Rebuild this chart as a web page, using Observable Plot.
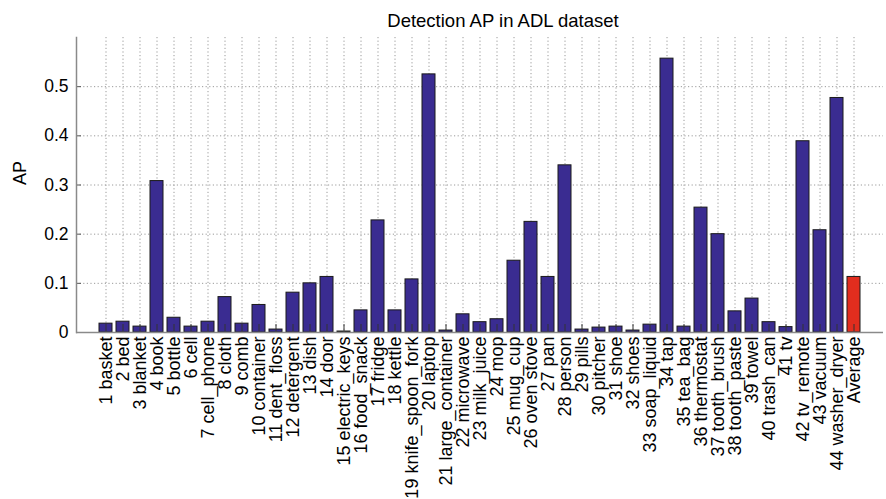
<!DOCTYPE html>
<html>
<head>
<meta charset="utf-8">
<script src="https://cdn.jsdelivr.net/npm/d3@7"></script>
<script src="https://cdn.jsdelivr.net/npm/@observablehq/plot@0.6"></script>
<style>
  html, body { margin: 0; padding: 0; background: #fff; }
</style>
</head>
<body>
<div id="chart"></div>
<script>
const labels = [
  "1 basket", "2 bed", "3 blanket", "4 book", "5 bottle", "6 cell", "7 cell_phone", "8 cloth",
  "9 comb", "10 container", "11 dent_floss", "12 detergent", "13 dish", "14 door",
  "15 electric_keys", "16 food_snack", "17 fridge", "18 kettle", "19 knife_spoon_fork",
  "20 laptop", "21 large_container", "22 microwave", "23 milk_juice", "24 mop", "25 mug_cup",
  "26 oven stove", "27 pan", "28 person", "29 pills", "30 pitcher", "31 shoe", "32 shoes",
  "33 soap_liquid", "34 tap", "35 tea_bag", "36 thermostat", "37 tooth_brush", "38 tooth_paste",
  "39 towel", "40 trash_can", "41 tv", "42 tv_remote", "43 vacuum", "44 washer_dryer", "Average"
];
const values = [
  0.018, 0.022, 0.012, 0.308, 0.030, 0.012, 0.022, 0.072, 0.018, 0.056, 0.006, 0.081,
  0.100, 0.113, 0.002, 0.045, 0.228, 0.045, 0.108, 0.525, 0.004, 0.037, 0.021, 0.027,
  0.146, 0.225, 0.113, 0.340, 0.006, 0.010, 0.012, 0.004, 0.016, 0.557, 0.012, 0.254,
  0.200, 0.043, 0.069, 0.021, 0.011, 0.389, 0.208, 0.477, 0.113
];
const groups = labels.map(l => l === "Average" ? "Average" : "Class");
const yTicks = [0, 0.1, 0.2, 0.3, 0.4, 0.5];
const title = "Detection AP in ADL dataset";

const data = labels.map((l, i) => ({label: l, ap: values[i], group: groups[i]}));

const chart = Plot.plot({
  width: 886,
  height: 499,
  marginLeft: 76,
  marginRight: 3,
  marginTop: 37,
  marginBottom: 167,
  style: {fontFamily: "'Liberation Sans', Arial, Helvetica, sans-serif", fontSize: "18px", color: "#000", background: "#fff"},
  x: {domain: labels, paddingInner: 0.22, paddingOuter: 0.61, align: 0.5},
  y: {domain: [0, 0.6]},
  color: {domain: ["Class", "Average"], range: ["#3a2c91", "#e12d1e"]},
  marks: [
    Plot.gridX({stroke: "#9a9a9a", strokeOpacity: 1, strokeDasharray: "1.2,2.4", strokeWidth: 1}),
    Plot.gridY(yTicks, {stroke: "#9a9a9a", strokeOpacity: 1, strokeDasharray: "1.2,2.4", strokeWidth: 1}),
    Plot.barY(data, {x: "label", y: "ap", fill: "group", stroke: "#1a1a1a", strokeWidth: 1}),
    Plot.axisX({tickSize: 0, tickPadding: 4, tickRotate: -90, label: null, fontSize: 18}),
    Plot.axisX({tickSize: 8, dy: -8, text: null, label: null, stroke: "#333"}),
    Plot.axisY(yTicks, {tickSize: 0, tickPadding: 8, tickFormat: d3.format("~g"), fontSize: 17.5, label: null}),
    Plot.axisY(yTicks, {tickSize: 5, dx: 5, text: null, label: null, stroke: "#555"}),
    Plot.text(["AP"], {frameAnchor: "left", dx: -56, rotate: -90, fontSize: 18}),
    Plot.ruleY([0], {stroke: "#8a8a8a", strokeWidth: 1.5}),
    Plot.frame({anchor: "left", stroke: "#8a8a8a", strokeWidth: 1.5}),
    Plot.text([title], {frameAnchor: "top", lineAnchor: "middle", dy: -16, dx: 23, fontSize: 18.5})
  ]
});
document.getElementById("chart").appendChild(chart);
</script>
</body>
</html>
